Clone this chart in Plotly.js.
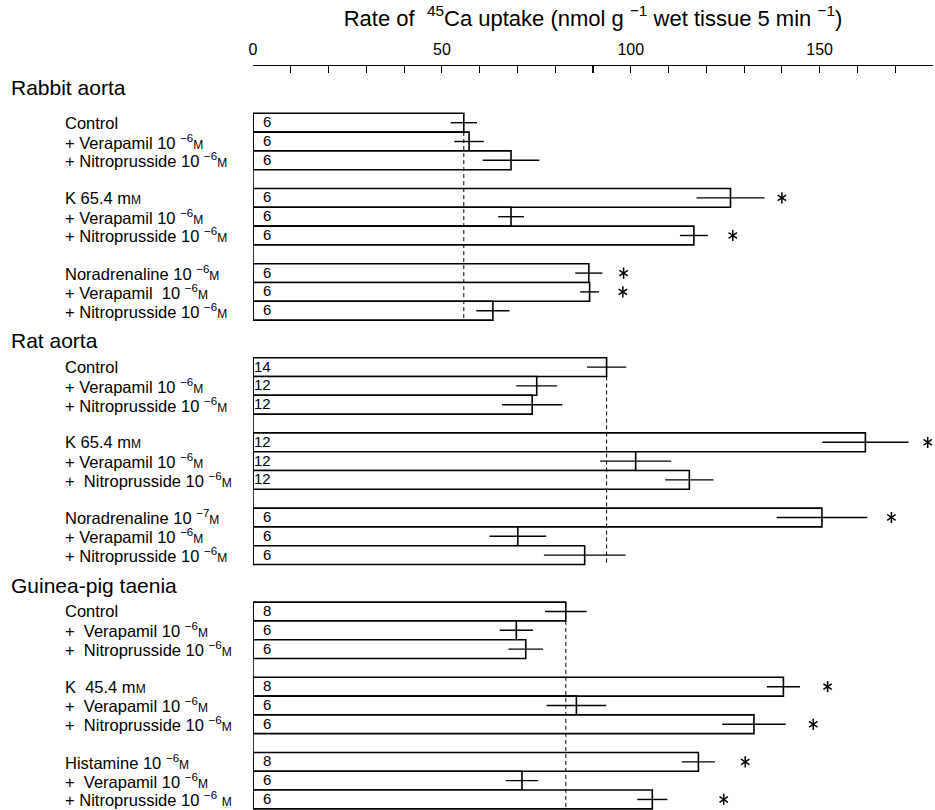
<!DOCTYPE html>
<html>
<head>
<meta charset="utf-8">
<script src="https://cdn.plot.ly/plotly-3.0.1.min.js"></script>
<style>html,body{margin:0;padding:0;background:#fff;}#chart{width:935px;height:810px;}</style>
</head>
<body>
<div id="chart"></div>
<script>
// ---- data ----
var groupNames = ["Rabbit aorta", "Rat aorta", "Guinea-pig taenia"];
var M = '<span style="font-size:12px">M</span>';
var E6 = " <sup>−6</sup>", E7 = " <sup>−7</sup>";
var rowLabels = [
  "Control", "+ Verapamil 10" + E6 + M, "+ Nitroprusside 10" + E6 + M,
  "K 65.4 m" + M, "+ Verapamil 10" + E6 + M, "+ Nitroprusside 10" + E6 + M,
  "Noradrenaline 10" + E6 + M, "+ Verapamil  10" + E6 + M, "+ Nitroprusside 10" + E6 + M,
  "Control", "+ Verapamil 10" + E6 + M, "+ Nitroprusside 10" + E6 + M,
  "K 65.4 m" + M, "+ Verapamil 10" + E6 + M, "+  Nitroprusside 10" + E6 + M,
  "Noradrenaline 10" + E7 + M, "+ Verapamil 10" + E6 + M, "+ Nitroprusside 10" + E6 + M,
  "Control", "+  Verapamil 10" + E6 + M, "+  Nitroprusside 10" + E6 + M,
  "K  45.4 m" + M, "+  Verapamil 10" + E6 + M, "+  Nitroprusside 10" + E6 + M,
  "Histamine 10" + E6 + M, "+  Verapamil 10" + E6 + M, "+ Nitroprusside 10" + E6 + " " + M
];
var means = [55.8, 57.2, 68.3, 126.4, 68.3, 116.7, 88.9, 89.1, 63.5,
             93.6, 75.1, 73.9, 162.1, 101.3, 115.5, 150.6, 70.1, 87.8,
             82.8, 69.7, 72.2, 140.4, 85.6, 132.6, 117.9, 71.2, 105.7];
var sems  = [3.5, 3.9, 7.5, 9.0, 3.4, 3.7, 3.6, 2.5, 4.4,
             5.2, 5.4, 8.0, 11.4, 9.4, 6.4, 12.0, 7.5, 10.8,
             5.5, 4.4, 4.6, 4.4, 7.9, 8.4, 4.4, 4.3, 4.0];
var nVals = [6, 6, 6, 6, 6, 6, 6, 6, 6,
             14, 12, 12, 12, 12, 12, 6, 6, 6,
             8, 6, 6, 8, 6, 6, 8, 6, 6];
var starX = [null, null, null, 140.0, null, 127.0, 98.1, 97.9, null,
             null, null, null, 178.6, null, null, 169.0, null, null,
             null, null, null, 152.1, null, 148.3, 130.3, null, 124.6];
var tickValues = [0, 50, 100, 150];
var tickLabels = ["0", "50", "100", "150"];

// ---- layout helpers ----
var FONT = "Liberation Sans, Arial, Helvetica, sans-serif";
function rowOf(i) {
  var g = Math.floor(i / 9), k = i % 9;
  return g * 13 + Math.floor(k / 3) * 4 + (k % 3);
}
var rows = means.map(function (_, i) { return rowOf(i); });

var bars = {
  type: "bar", orientation: "h",
  x: means, y: rows, width: 1,
  marker: { color: "#ffffff", line: { color: "#000", width: 1.6 } },
  error_x: { type: "data", array: sems, visible: true, color: "#000", thickness: 1.4, width: 0 },
  hoverinfo: "skip", showlegend: false
};

// significance asterisks: two three-armed markers overlaid give a six-armed star
var starRows = [], starXs = [];
for (var s = 0; s < starX.length; s++) {
  if (starX[s] !== null) { starXs.push(starX[s]); starRows.push(rows[s]); }
}
function starTrace(sym) {
  return { type: "scatter", mode: "markers", x: starXs, y: starRows, cliponaxis: false,
    marker: { symbol: sym, size: 7, color: "#000", line: { color: "#000", width: 1.5 } },
    hoverinfo: "skip", showlegend: false };
}

var annotations = [];
var shapes = [];
for (var i = 0; i < means.length; i++) {
  annotations.push({ x: 0, y: rows[i], xref: "x", yref: "y", text: String(nVals[i]),
    showarrow: false, xanchor: "right", xshift: 20, yshift: 1, font: { size: 15, family: FONT, color: "#000" } });
  annotations.push({ x: 0, y: rows[i], xref: "x", yref: "y", text: rowLabels[i],
    showarrow: false, xanchor: "left", xshift: -190, font: { size: 16.5, family: FONT, color: "#000" } });
}
for (var g = 0; g < groupNames.length; g++) {
  var first = rows[g * 9], last = rows[g * 9 + 8];
  annotations.push({ x: 0, y: first - (g === 0 ? 1.85 : 1.4), xref: "x", yref: "y", text: groupNames[g],
    showarrow: false, xanchor: "left", xshift: -244, font: { size: 21, family: FONT, color: "#000" } });
  // left frame line of each block
  shapes.push({ type: "line", xref: "x", yref: "y", x0: 0, x1: 0, y0: first - 0.5, y1: last + 0.5,
    line: { color: "#000", width: 1.6 } });
  // dashed control reference line
  shapes.push({ type: "line", xref: "x", yref: "y", x0: means[g * 9], x1: means[g * 9],
    y0: first + 0.5, y1: last + 0.5, line: { color: "#000", width: 1, dash: "4px,3px" } });
}

var layout = {
  width: 935, height: 810,
  margin: { l: 253, r: 2, t: 66, b: 0 },
  paper_bgcolor: "#fff", plot_bgcolor: "#fff",
  font: { family: FONT, color: "#000" },
  title: { text: "Rate of  <sup>45</sup>Ca uptake (nmol g <sup>−1</sup> wet tissue 5 min <sup>−1</sup>)",
    font: { size: 22, family: FONT, color: "#000" }, xref: "paper", x: 0.5, xanchor: "center",
    yref: "container", y: 0.978, yanchor: "middle" },
  xaxis: { side: "top", range: [0, 180], tickmode: "array", tickvals: tickValues, ticktext: tickLabels,
    ticks: "inside", ticklen: 7, tickwidth: 1.2, tickcolor: "#000",
    minor: { dtick: 10, ticks: "inside", ticklen: 7, tickwidth: 1.2, tickcolor: "#000", showgrid: false },
    showline: true, linecolor: "#000",
    linewidth: 1.5, showgrid: false, zeroline: false, tickfont: { size: 16, family: FONT, color: "#000" },
    ticklabelstandoff: 3, fixedrange: true },
  yaxis: { range: [36.56, -3.016], visible: false, showgrid: false, zeroline: false, fixedrange: true },
  bargap: 0, showlegend: false,
  annotations: annotations, shapes: shapes
};

Plotly.newPlot("chart", [bars, starTrace("y-up-open"), starTrace("y-down-open")], layout,
  { staticPlot: true, displayModeBar: false });
</script>
</body>
</html>
